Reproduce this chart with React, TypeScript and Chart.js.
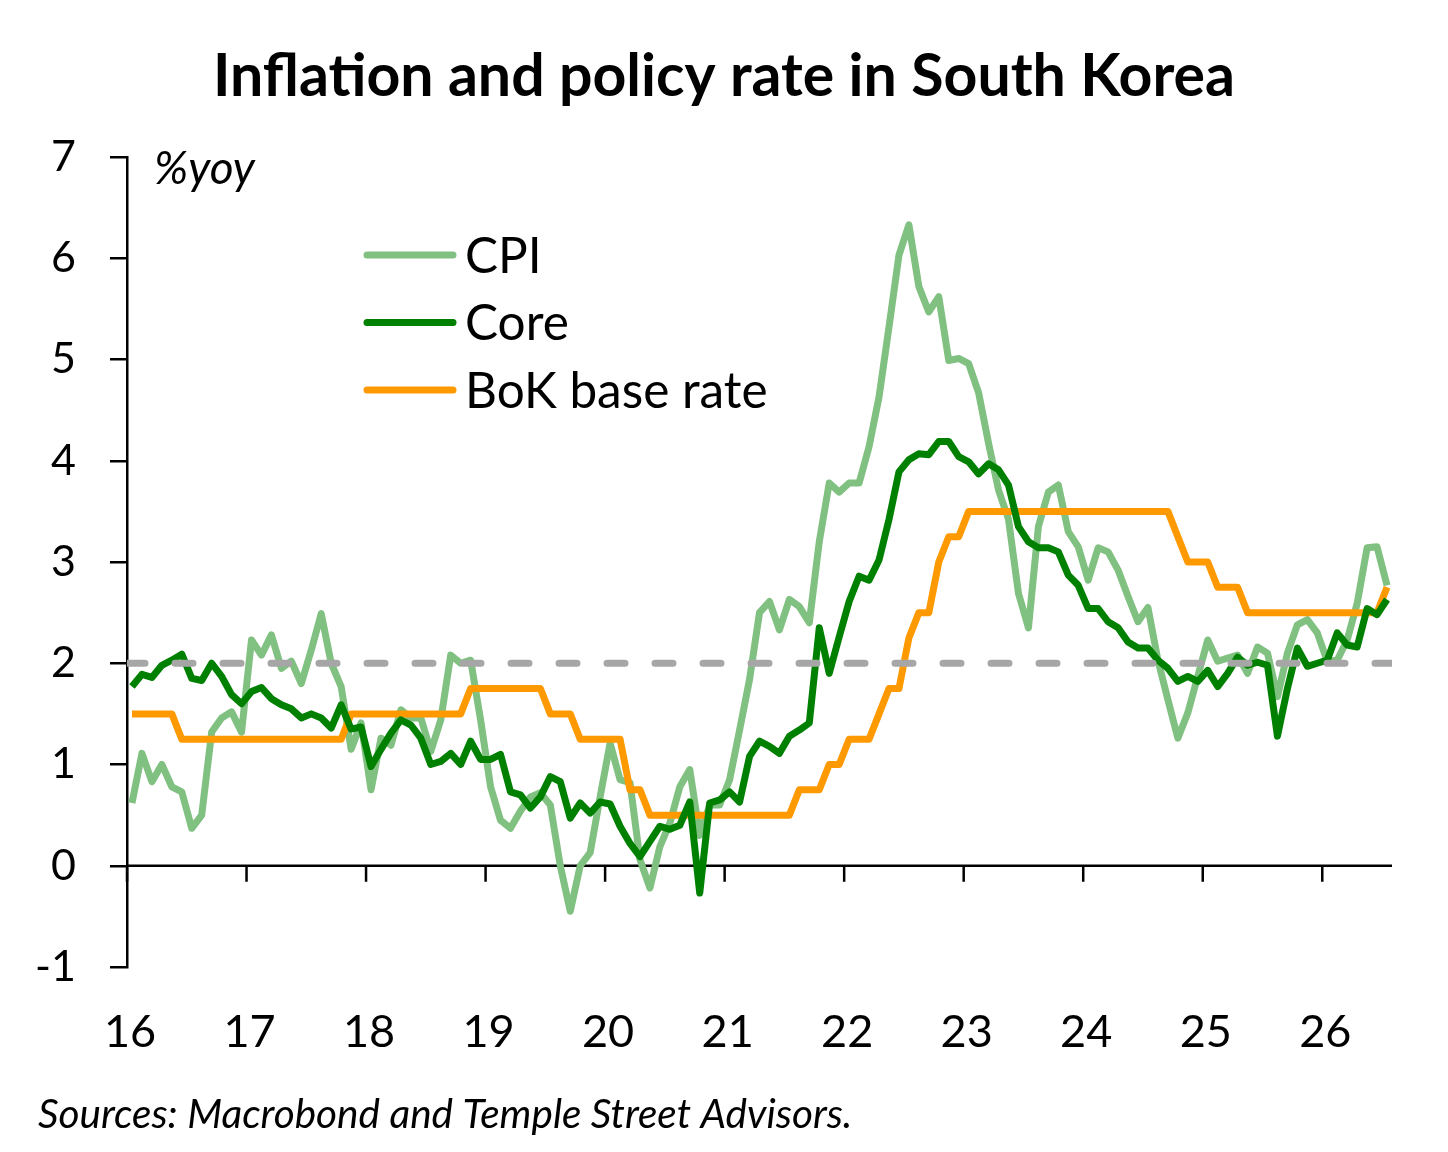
import { useEffect, useRef } from 'react';
import { Chart, registerables } from 'chart.js';

Chart.register(...registerables);

// monthly, Jan 2016 onwards
const YEAR_LABELS = ['16', '17', '18', '19', '20', '21', '22', '23', '24', '25', '26'];

const CPI = [
	0.62, 1.11, 0.83, 1.0, 0.78, 0.73, 0.37, 0.5, 1.32, 1.46, 1.52, 1.32,
	2.23, 2.08, 2.28, 1.95, 2.02, 1.8, 2.13, 2.49, 2.0, 1.77, 1.15, 1.41,
	0.75, 1.26, 1.19, 1.54, 1.46, 1.46, 1.13, 1.44, 2.08, 2.0, 2.03, 1.44,
	0.78, 0.45, 0.37, 0.54, 0.68, 0.72, 0.6, 0.0, -0.45, 0.0, 0.13, 0.68,
	1.21, 0.85, 0.82, 0.06, -0.22, 0.19, 0.42, 0.78, 0.95, 0.3, 0.6, 0.6,
	0.85, 1.34, 1.84, 2.5, 2.61, 2.33, 2.63, 2.56, 2.4, 3.2, 3.78, 3.69,
	3.78, 3.78, 4.14, 4.63, 5.32, 6.03, 6.33, 5.72, 5.47, 5.62, 4.99, 5.01,
	4.96, 4.67, 4.17, 3.71, 3.42, 2.69, 2.35, 3.35, 3.69, 3.76, 3.3, 3.15,
	2.82, 3.14, 3.1, 2.92, 2.66, 2.41, 2.55, 2.03, 1.64, 1.26, 1.51, 1.87,
	2.23, 2.02, 2.05, 2.08, 1.9, 2.16, 2.1, 1.67, 2.1, 2.38, 2.43, 2.3,
	2.02, 2.03, 2.23, 2.59, 3.14, 3.15, 2.77
];

const CORE = [
	1.77, 1.89, 1.86, 1.98, 2.03, 2.09, 1.85, 1.83, 2.0, 1.87, 1.69, 1.6,
	1.72, 1.76, 1.65, 1.59, 1.55, 1.46, 1.5, 1.46, 1.36, 1.59, 1.35, 1.37,
	0.98, 1.15, 1.31, 1.44, 1.39, 1.26, 1.0, 1.03, 1.11, 1.0, 1.23, 1.05,
	1.05, 1.1, 0.73, 0.7, 0.57, 0.68, 0.88, 0.83, 0.47, 0.62, 0.52, 0.63,
	0.61, 0.39, 0.22, 0.09, 0.24, 0.39, 0.36, 0.4, 0.63, -0.27, 0.62, 0.65,
	0.73, 0.63, 1.08, 1.23, 1.18, 1.11, 1.28, 1.34, 1.41, 2.35, 1.9, 2.26,
	2.61, 2.86, 2.82, 3.02, 3.42, 3.89, 4.01, 4.07, 4.06, 4.19, 4.19, 4.04,
	3.99, 3.87, 3.97, 3.91, 3.76, 3.35, 3.2, 3.14, 3.14, 3.1, 2.87, 2.77,
	2.54, 2.54, 2.41, 2.35, 2.21, 2.15, 2.15, 2.03, 1.95, 1.82, 1.87, 1.82,
	1.93, 1.77, 1.9, 2.06, 1.98, 2.01, 1.98, 1.28, 1.75, 2.15, 1.97, 2.0,
	2.03, 2.3, 2.18, 2.16, 2.54, 2.48, 2.63
];

const BOK_RATE = [
	1.5, 1.5, 1.5, 1.5, 1.5, 1.25, 1.25, 1.25, 1.25, 1.25, 1.25, 1.25,
	1.25, 1.25, 1.25, 1.25, 1.25, 1.25, 1.25, 1.25, 1.25, 1.25, 1.5, 1.5,
	1.5, 1.5, 1.5, 1.5, 1.5, 1.5, 1.5, 1.5, 1.5, 1.5, 1.75, 1.75,
	1.75, 1.75, 1.75, 1.75, 1.75, 1.75, 1.5, 1.5, 1.5, 1.25, 1.25, 1.25,
	1.25, 1.25, 0.75, 0.75, 0.5, 0.5, 0.5, 0.5, 0.5, 0.5, 0.5, 0.5,
	0.5, 0.5, 0.5, 0.5, 0.5, 0.5, 0.5, 0.75, 0.75, 0.75, 1.0, 1.0,
	1.25, 1.25, 1.25, 1.5, 1.75, 1.75, 2.25, 2.5, 2.5, 3.0, 3.25, 3.25,
	3.5, 3.5, 3.5, 3.5, 3.5, 3.5, 3.5, 3.5, 3.5, 3.5, 3.5, 3.5,
	3.5, 3.5, 3.5, 3.5, 3.5, 3.5, 3.5, 3.5, 3.5, 3.25, 3.0, 3.0,
	3.0, 2.75, 2.75, 2.75, 2.5, 2.5, 2.5, 2.5, 2.5, 2.5, 2.5, 2.5,
	2.5, 2.5, 2.5, 2.5, 2.5, 2.5, 2.75
];

const TARGET = 2;

const FONT = 'Lato';

const toPoints = (vals: number[]) => vals.map((v, i) => ({ x: i + 0.5, y: v }));

const decor = {
	id: 'decor',
	beforeDatasetsDraw(chart: any) {
		const { ctx, chartArea, scales } = chart;
		const y0 = scales.y.getPixelForValue(0);
		ctx.save();
		ctx.strokeStyle = '#000';
		ctx.lineWidth = 2.5;
		ctx.beginPath();
		ctx.moveTo(chartArea.left, y0);
		ctx.lineTo(chartArea.right, y0);
		scales.x.ticks.forEach((t: any) => {
			const px = scales.x.getPixelForValue(t.value);
			ctx.moveTo(px, y0);
			ctx.lineTo(px, y0 + 16);
		});
		ctx.stroke();
		ctx.restore();
	},
	afterDraw(chart: any) {
		const { ctx, chartArea } = chart;
		ctx.save();
		ctx.fillStyle = '#000';
		ctx.textBaseline = 'alphabetic';

		ctx.font = `bold 59px ${FONT}`;
		ctx.textAlign = 'center';
		ctx.fillText('Inflation and policy rate in South Korea', 724, 96);

		ctx.textAlign = 'left';
		ctx.font = `italic 46px ${FONT}`;
		ctx.fillText('%yoy', chartArea.left + 27, 184);

		ctx.font = `italic 40.5px ${FONT}`;
		ctx.fillText('Sources: Macrobond and Temple Street Advisors.', 38, 1128);

		// legend
		const order = ['CPI', 'Core', 'BoK base rate'];
		ctx.font = `49.5px ${FONT}`;
		ctx.textBaseline = 'middle';
		ctx.lineCap = 'round';
		order.forEach((name, i) => {
			const ds = chart.data.datasets.find((d: any) => d.label === name);
			const ly = 255 + i * 67.5;
			ctx.strokeStyle = ds.borderColor;
			ctx.lineWidth = 7;
			ctx.beginPath();
			ctx.moveTo(367, ly);
			ctx.lineTo(453, ly);
			ctx.stroke();
			ctx.fillText(name, 465, ly + 2);
		});
		ctx.restore();
	}
};

export default function App() {
	const canvasRef = useRef<HTMLCanvasElement>(null);

	useEffect(() => {
		document.body.style.margin = '0';
		const months = CPI.map((_, i) => i + 0.5);
		const last = months[months.length - 1] + 0.5;
		const chart = new Chart(canvasRef.current as HTMLCanvasElement, {
			type: 'line',
			data: {
				datasets: [
					{
						label: 'Target',
						data: [
							{ x: 0, y: TARGET },
							{ x: last, y: TARGET }
						],
						borderColor: '#A6A6A6',
						borderWidth: 7,
						borderDash: [18, 30],
						borderCapStyle: 'round',
						pointRadius: 0
					},
					{
						label: 'Core',
						data: toPoints(CORE),
						borderColor: '#008000',
						borderWidth: 7,
						borderJoinStyle: 'round',
						pointRadius: 0
					},
					{
						label: 'BoK base rate',
						data: toPoints(BOK_RATE),
						borderColor: '#FF9900',
						borderWidth: 7,
						borderJoinStyle: 'round',
						pointRadius: 0
					},
					{
						label: 'CPI',
						data: toPoints(CPI),
						borderColor: '#80C080',
						borderWidth: 7,
						borderJoinStyle: 'round',
						pointRadius: 0
					}
				]
			},
			options: {
				responsive: false,
				animation: false,
				devicePixelRatio: 1,
				layout: { padding: { top: 157, right: 56, bottom: 0, left: 0 } },
				scales: {
					x: {
						type: 'linear',
						min: 0,
						max: last,
						afterBuildTicks: (s: any) => {
							s.ticks = YEAR_LABELS.map((_, i) => ({ value: i * 12 }));
						},
						afterFit: (s: any) => {
							s.height = 185;
						},
						border: { display: false },
						grid: { display: false, drawTicks: false },
						ticks: {
							padding: 38,
							labelOffset: 3,
							maxRotation: 0,
							autoSkip: false,
							color: '#000',
							font: { family: FONT, size: 45 },
							callback: (v: any) => YEAR_LABELS[Math.round(Number(v) / 12)]
						}
					},
					y: {
						min: -1,
						max: 7,
						afterFit: (s: any) => {
							s.width = 127;
						},
						border: { display: true, color: '#000', width: 2.5 },
						grid: {
							drawOnChartArea: false,
							drawTicks: true,
							tickLength: 17,
							color: '#000',
							lineWidth: 2.5
						},
						ticks: {
							stepSize: 1,
							padding: 34,
							color: '#000',
							font: { family: FONT, size: 43 }
						}
					}
				},
				plugins: {
					legend: { display: false },
					tooltip: { enabled: false },
					title: { display: false }
				}
			},
			plugins: [decor]
		});
		return () => chart.destroy();
	}, []);

	return <canvas ref={canvasRef} width={1448} height={1152} style={{ display: 'block' }} />;
}
